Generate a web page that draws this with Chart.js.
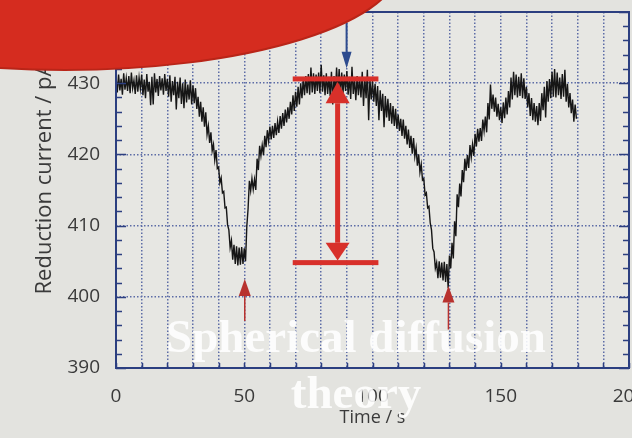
<!DOCTYPE html>
<html>
<head>
<meta charset="utf-8">
<script src="https://cdn.jsdelivr.net/npm/chart.js@4.4.1/dist/chart.umd.min.js"></script>
<style>
  body { margin: 0; background: #e4e4e0; }
  #wrap { width: 632px; height: 438px; }
</style>
</head>
<body>
<div id="wrap"><canvas id="chart" width="632" height="438"></canvas></div>
<script>
// time in s, read every half second off the trace
const times = [
  0,0.5,1,1.5,2,2.5,3,3.5,4,4.5,5,5.5,6,6.5,7,7.5,8,8.5,9,9.5,
  10,10.5,11,11.5,12,12.5,13,13.5,14,14.5,15,15.5,16,16.5,17,17.5,18,18.5,19,19.5,
  20,20.5,21,21.5,22,22.5,23,23.5,24,24.5,25,25.5,26,26.5,27,27.5,28,28.5,29,29.5,
  30,30.5,31,31.5,32,32.5,33,33.5,34,34.5,35,35.5,36,36.5,37,37.5,38,38.5,39,39.5,
  40,40.5,41,41.5,42,42.5,43,43.5,44,44.5,45,45.5,46,46.5,47,47.5,48,48.5,49,49.5,
  50,50.5,51,51.5,52,52.5,53,53.5,54,54.5,55,55.5,56,56.5,57,57.5,58,58.5,59,59.5,
  60,60.5,61,61.5,62,62.5,63,63.5,64,64.5,65,65.5,66,66.5,67,67.5,68,68.5,69,69.5,
  70,70.5,71,71.5,72,72.5,73,73.5,74,74.5,75,75.5,76,76.5,77,77.5,78,78.5,79,79.5,
  80,80.5,81,81.5,82,82.5,83,83.5,84,84.5,85,85.5,86,86.5,87,87.5,88,88.5,89,89.5,
  90,90.5,91,91.5,92,92.5,93,93.5,94,94.5,95,95.5,96,96.5,97,97.5,98,98.5,99,99.5,
  100,100.5,101,101.5,102,102.5,103,103.5,104,104.5,105,105.5,106,106.5,107,107.5,108,108.5,109,109.5,
  110,110.5,111,111.5,112,112.5,113,113.5,114,114.5,115,115.5,116,116.5,117,117.5,118,118.5,119,119.5,
  120,120.5,121,121.5,122,122.5,123,123.5,124,124.5,125,125.5,126,126.5,127,127.5,128,128.5,129,129.5,
  130,130.5,131,131.5,132,132.5,133,133.5,134,134.5,135,135.5,136,136.5,137,137.5,138,138.5,139,139.5,
  140,140.5,141,141.5,142,142.5,143,143.5,144,144.5,145,145.5,146,146.5,147,147.5,148,148.5,149,149.5,
  150,150.5,151,151.5,152,152.5,153,153.5,154,154.5,155,155.5,156,156.5,157,157.5,158,158.5,159,159.5,
  160,160.5,161,161.5,162,162.5,163,163.5,164,164.5,165,165.5,166,166.5,167,167.5,168,168.5,169,169.5,
  170,170.5,171,171.5,172,172.5,173,173.5,174,174.5,175,175.5,176,176.5,177,177.5,178,178.5,179,179.5
];
// reduction current in pA
const current = [
  430.9,428.7,431.2,429.0,430.6,428.4,431.4,429.1,430.7,428.9,431.0,428.6,431.5,429.3,430.4,428.5,431.1,428.8,430.8,429.2,
  431.2,428.3,430.5,427.9,431.3,428.8,430.2,426.9,430.9,427.0,431.4,428.7,430.6,428.2,431.0,429.0,430.7,428.4,431.3,428.9,
  430.6,428.1,431.1,427.4,430.3,428.3,430.9,426.3,430.2,427.9,430.8,427.1,430.0,426.5,430.5,427.3,429.8,427.7,430.4,427.0,
  429.7,427.2,429.3,426.4,428.1,425.3,427.4,424.6,426.6,423.9,425.9,422.8,424.0,421.6,423.1,420.5,421.4,419.2,420.6,418.0,
  418.2,416.0,416.7,414.6,414.8,412.5,412.6,410.1,409.4,406.9,407.9,405.2,407.3,404.6,407.1,404.4,406.9,404.5,407.0,404.6,
  406.8,405.0,409.9,412.4,416.3,414.9,416.6,415.1,416.5,415.0,419.4,417.8,421.2,419.8,421.3,419.9,422.6,421.0,423.4,421.9,
  423.9,422.1,424.0,422.3,424.4,422.7,424.6,423.0,425.4,423.6,425.8,424.0,426.3,424.5,426.6,425.0,427.4,425.6,428.3,426.1,
  428.8,426.7,429.5,427.0,430.0,427.9,430.6,428.3,431.0,428.6,431.3,428.4,432.2,428.7,431.4,428.5,431.2,428.9,431.5,428.6,
  432.6,428.8,431.1,428.3,431.4,428.5,430.9,428.2,431.6,427.0,431.0,428.4,432.2,428.7,432.0,428.1,431.5,428.6,431.2,428.9,
  431.7,428.4,430.9,427.8,432.3,428.5,430.6,427.6,431.0,428.3,430.8,428.0,431.6,426.8,430.7,427.9,431.9,424.8,430.6,427.7,
  430.3,427.4,429.9,426.8,429.6,424.8,429.0,426.1,428.5,423.8,428.2,425.2,427.8,424.7,427.2,424.3,426.8,424.0,426.4,423.6,
  425.6,423.3,425.0,422.6,424.9,422.2,424.0,421.4,423.5,420.9,422.6,420.1,422.3,419.7,420.9,418.4,420.0,417.5,418.6,416.4,
  416.6,414.3,414.6,412.5,412.7,410.4,409.4,406.8,406.3,404.0,404.8,402.6,405.0,402.7,404.8,402.3,404.9,402.1,404.6,401.2,
  405.8,404.0,407.6,405.4,410.6,408.5,414.4,412.6,415.9,414.1,417.8,416.1,419.4,417.7,419.9,418.1,421.3,419.6,421.4,419.8,
  422.9,421.1,423.6,421.8,423.7,421.9,424.9,423.3,425.3,423.1,427.2,424.9,429.8,426.4,428.4,426.0,428.0,425.3,427.1,424.8,
  426.6,424.4,427.3,425.1,428.0,425.6,428.9,426.6,430.8,427.7,431.6,428.3,431.2,428.0,430.9,428.2,431.4,427.9,430.7,427.8,
  429.5,426.6,428.6,425.4,427.9,424.8,427.2,424.6,426.8,424.1,427.2,424.7,428.6,426.2,429.5,425.2,430.3,427.4,430.6,427.9,
  431.6,428.1,432.0,428.0,431.5,428.3,430.8,427.8,431.3,428.1,431.9,427.4,429.9,426.6,428.6,425.8,427.7,424.6,427.0,425.0
];
const xLabels = [0, 50, 100, 150, 200];
const yLabels = [390, 400, 410, 420, 430, 440];

const ink = '#3a3a3a';
const frameColor = '#2c3f80';
const gridColor = '#5d6ca6';

function arrow(ctx, x, yTail, yBase, yTip, halfW, shaftW, color) {
  ctx.strokeStyle = color;
  ctx.fillStyle = color;
  ctx.lineWidth = shaftW;
  ctx.beginPath();
  ctx.moveTo(x, yTail);
  ctx.lineTo(x, yBase);
  ctx.stroke();
  ctx.beginPath();
  ctx.moveTo(x, yTip);
  ctx.lineTo(x - halfW, yBase);
  ctx.lineTo(x + halfW, yBase);
  ctx.closePath();
  ctx.fill();
}

const paper = {
  id: 'paper',
  beforeDraw(chart) {
    const ctx = chart.ctx, a = chart.chartArea;
    ctx.save();
    ctx.fillStyle = '#e3e3df';
    ctx.fillRect(0, 0, chart.width, chart.height);
    ctx.fillStyle = '#e7e7e3';
    ctx.fillRect(a.left, a.top, a.right - a.left, a.bottom - a.top);
    ctx.restore();
  }
};

const frame = {
  id: 'frame',
  afterDatasetsDraw(chart) {
    const ctx = chart.ctx, a = chart.chartArea;
    const x = chart.scales.x, y = chart.scales.y;
    ctx.save();
    ctx.strokeStyle = frameColor;
    ctx.lineWidth = 1.5;
    ctx.beginPath();
    for (let v = 390; v <= 440; v += 2) {
      const py = Math.round(y.getPixelForValue(v)) + 0.5;
      const len = v % 10 === 0 ? 10 : 6;
      ctx.moveTo(a.left, py); ctx.lineTo(a.left + len, py);
      ctx.moveTo(a.right, py); ctx.lineTo(a.right - len, py);
    }
    for (let t = 0; t <= 200; t += 10) {
      const px = Math.round(x.getPixelForValue(t)) + 0.5;
      ctx.moveTo(px, a.bottom); ctx.lineTo(px, a.bottom - 5);
    }
    ctx.stroke();
    ctx.lineWidth = 2;
    ctx.strokeRect(a.left, a.top, a.right - a.left, a.bottom - a.top);
    ctx.restore();
  }
};

const marks = {
  id: 'marks',
  afterDraw(chart) {
    const ctx = chart.ctx;
    const x = chart.scales.x, y = chart.scales.y;
    ctx.save();
    // big double arrow between plateau and dip
    const red = '#d8302a';
    const x1 = x.getPixelForValue(68.9), x2 = x.getPixelForValue(102.3);
    const xm = x.getPixelForValue(86.4);
    const yTop = y.getPixelForValue(430.6), yBot = y.getPixelForValue(404.8);
    ctx.fillStyle = red;
    ctx.fillRect(x1, yTop - 2.5, x2 - x1, 5);
    ctx.fillRect(x1, yBot - 2.5, x2 - x1, 5);
    ctx.strokeStyle = red;
    ctx.lineWidth = 5;
    ctx.beginPath();
    ctx.moveTo(xm, y.getPixelForValue(427.2));
    ctx.lineTo(xm, y.getPixelForValue(407.6));
    ctx.stroke();
    arrow(ctx, xm, y.getPixelForValue(427.2), y.getPixelForValue(427.2), y.getPixelForValue(430.2), 12, 5, red);
    arrow(ctx, xm, y.getPixelForValue(407.6), y.getPixelForValue(407.6), y.getPixelForValue(405.1), 12, 5, red);
    // blue marker arrow
    const bx = x.getPixelForValue(89.9);
    arrow(ctx, bx, y.getPixelForValue(438.5), y.getPixelForValue(434.4), y.getPixelForValue(432.1), 5, 2, '#2d4b8e');
    // small red arrows under the minima
    const ax1 = x.getPixelForValue(50.2);
    arrow(ctx, ax1, y.getPixelForValue(396.6), y.getPixelForValue(400.1), y.getPixelForValue(402.5), 6, 1.5, '#b8322e');
    const ax2 = x.getPixelForValue(129.6);
    arrow(ctx, ax2, y.getPixelForValue(395.4), y.getPixelForValue(399.2), y.getPixelForValue(401.5), 6, 1.5, '#b8322e');

    // white overlay caption
    ctx.fillStyle = 'rgba(255,255,255,0.88)';
    ctx.font = 'bold 47px "Liberation Serif"';
    ctx.textAlign = 'center';
    ctx.textBaseline = 'alphabetic';
    ctx.fillText('Spherical diffusion', 356, 352);
    ctx.fillText('theory', 356, 408);

    // red blob over the top left corner
    ctx.beginPath();
    ctx.ellipse(65, -35, 335, 105, 0, 0, Math.PI * 2);
    ctx.fillStyle = '#d52c1f';
    ctx.fill();
    ctx.strokeStyle = '#b92518';
    ctx.lineWidth = 2;
    ctx.stroke();
    ctx.restore();
  }
};

new Chart(document.getElementById('chart'), {
  type: 'line',
  data: {
    labels: times,
    datasets: [{
      data: current,
      borderColor: '#161616',
      borderWidth: 1.4,
      pointRadius: 0,
      tension: 0,
      fill: false
    }]
  },
  options: {
    responsive: false,
    devicePixelRatio: 1,
    animation: false,
    events: [],
    layout: { padding: { top: 12, right: 3, left: 0, bottom: 0 } },
    plugins: { legend: { display: false }, tooltip: { enabled: false } },
    scales: {
      x: {
        type: 'linear',
        min: 0,
        max: 200,
        afterFit(scale) {
          scale.height = 70;
          scale.paddingLeft = 0;
          scale.paddingRight = 0;
        },
        ticks: {
          stepSize: 10,
          autoSkip: false,
          maxRotation: 0,
          padding: 17,
          color: ink,
          font: { family: '"Open Sans"', size: 19 },
          callback: v => xLabels.includes(v) ? String(v) : ''
        },
        grid: { color: gridColor, lineWidth: 1.5, drawTicks: false },
        border: { display: false, dash: [1.5, 2] },
        title: {
          display: true,
          text: 'Time / s',
          color: ink,
          font: { family: '"Open Sans"', size: 18 },
          padding: { top: 0, bottom: 9 }
        }
      },
      y: {
        min: 390,
        max: 440,
        afterFit(scale) {
          scale.width = 116;
          scale.paddingTop = 0;
          scale.paddingBottom = 0;
        },
        ticks: {
          stepSize: 10,
          padding: 16,
          color: ink,
          font: { family: '"Open Sans"', size: 19 },
          callback: v => yLabels.includes(v) ? String(v) : ''
        },
        grid: { color: gridColor, lineWidth: 1.5, drawTicks: false },
        border: { display: false, dash: [1.5, 2] },
        title: {
          display: true,
          text: '    Reduction current / pA',
          color: ink,
          font: { family: '"Open Sans"', size: 22 },
          padding: { top: 32, bottom: 0 }
        }
      }
    }
  },
  plugins: [paper, frame, marks]
});
</script>
</body>
</html>
